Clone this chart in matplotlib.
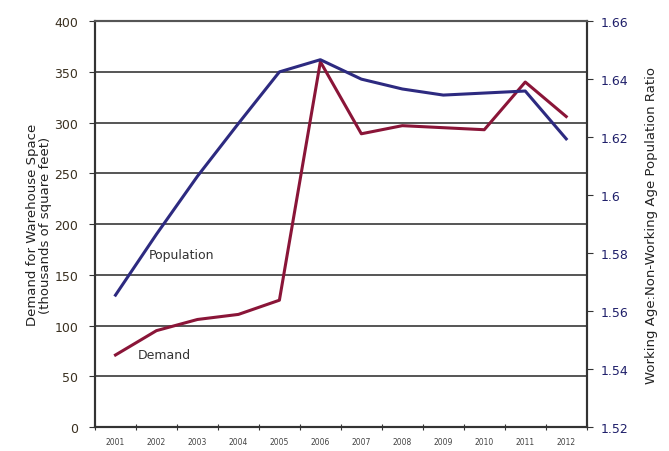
import matplotlib
matplotlib.use("Agg")
import matplotlib.pyplot as plt
import numpy as np

years = ["2001", "2002", "2003", "2004", "2005", "2006",
         "2007", "2008", "2009", "2010", "2011", "2012"]
demand = [71, 95, 106, 111, 125, 360, 289, 297, 295, 293, 340, 306]
pop_ratio = [1.5655, 1.5865, 1.6065, 1.6247, 1.6425, 1.6467,
             1.6400, 1.6366, 1.6345, 1.6352, 1.6359, 1.6194]

left_ticks = [0, 50, 100, 150, 200, 250, 300, 350, 400]
right_ticks = [1.52, 1.54, 1.56, 1.58, 1.6, 1.62, 1.64, 1.66]
right_labels = ["1.52", "1.54", "1.56", "1.58", "1.6", "1.62", "1.64", "1.66"]

RED = "#8a1538"
BLUE = "#2d2a80"
GRID = "#555555"

fig = plt.figure(figsize=(6.69, 4.52), dpi=100)
ax = fig.add_axes([0.142, 0.053, 0.735, 0.898])
ax2 = ax.twinx()

x = np.arange(len(years))
ax.plot(x, demand, color=RED, lw=2.2, solid_joinstyle="round")
ax2.plot(x, pop_ratio, color=BLUE, lw=2.2, solid_joinstyle="round")

ax.set_xlim(-0.5, len(years) - 0.5)
ax.set_ylim(0, 400)
ax2.set_ylim(1.52, 1.66)

ax.set_yticks(left_ticks)
ax.set_yticklabels([str(t) for t in left_ticks], fontsize=9, color="#3a3020")
ax2.set_yticks(right_ticks)
ax2.set_yticklabels(right_labels, fontsize=9, color="#1f1f6a")

ax.yaxis.grid(True, color=GRID, lw=1.4)
ax.set_axisbelow(True)

# category tick marks sit between the years, labels at the centres
ax.set_xticks(np.arange(-0.5, len(years), 1.0))
ax.set_xticklabels([])
ax.set_xticks(x, minor=True)
ax.set_xticklabels(years, minor=True, fontsize=5.5, color="#444444")
ax.tick_params(axis="x", which="minor", length=0, pad=7)
ax.tick_params(axis="x", which="major", length=4, direction="inout", color="#333333")
ax.tick_params(axis="y", length=4, direction="out", color="#333333", pad=8)
ax2.tick_params(axis="y", length=4, direction="out", color="#333333", pad=6)

for a in (ax, ax2):
    for s in a.spines.values():
        s.set_color("#333333")
        s.set_linewidth(1.5)
    a.spines["top"].set_color(GRID)

ax.set_ylabel("Demand for Warehouse Space\n(thousands of square feet)",
              fontsize=9.5, color="#222222", labelpad=2, linespacing=1.0)
ax2.set_ylabel("Working Age:Non-Working Age Population Ratio",
               fontsize=9.5, color="#222222", labelpad=12)

ax.text(1.6, 170, "Population", fontsize=9, color="#333333", ha="center", va="center")
ax.text(1.2, 71, "Demand", fontsize=9, color="#333333", ha="center", va="center")

fig.savefig("out.png", dpi=100)
